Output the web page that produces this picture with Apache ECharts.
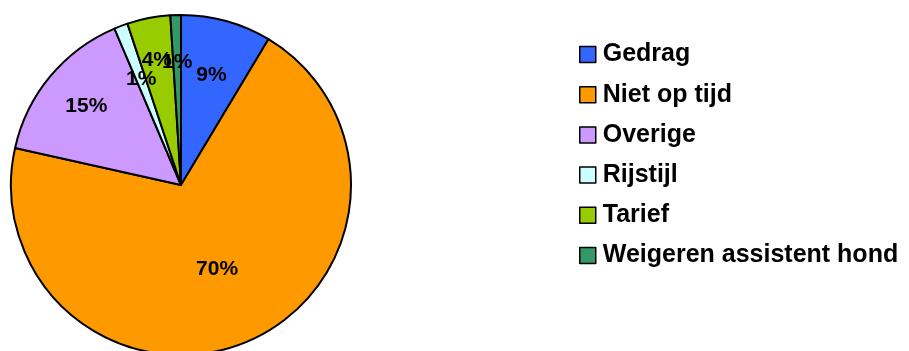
<!DOCTYPE html>
<html><head><meta charset="utf-8">
<script src="https://cdn.jsdelivr.net/npm/echarts@6/dist/echarts.min.js"></script>
<style>html,body{margin:0;padding:0;background:#fff}#c{width:909px;height:351px}</style>
</head><body><div id="c"></div>
<script>
const categories = ['Gedrag', 'Niet op tijd', 'Overige', 'Rijstijl', 'Tarief', 'Weigeren assistent hond'];
const values = [8.6, 69.9, 15.1, 1.3, 4.1, 1.0];
const colors = ['#3366FF', '#FF9900', '#CC99FF', '#CCFFFF', '#99CC00', '#339966'];
const labelRadiusFactor = [0.65, 0.52, 0.70, 0.64, 0.72, 0.70];

const CX = 181, CY = 185, R = 170;
const FONT = 'Liberation Sans, Arial, sans-serif';
const chart = echarts.init(document.getElementById('c'), null, {renderer: 'canvas'});
chart.setOption({
  animation: false,
  legend: {
    orient: 'vertical', left: 579, top: 42, padding: 0,
    itemWidth: 16, itemHeight: 16, itemGap: 15.2,
    icon: 'rect',
    itemStyle: {borderColor: '#000', borderWidth: 1.5},
    textStyle: {fontFamily: FONT, fontWeight: 'bold', fontSize: 25, color: '#000', lineHeight: 24, padding: [0, 0, 0, 2]},
    data: categories
  },
  series: [{
    type: 'pie',
    center: [CX, CY], radius: R,
    startAngle: 90, clockwise: true,
    avoidLabelOverlap: false,
    label: {
      position: 'inside',
      formatter: p => Math.round(p.percent) + '%',
      fontFamily: FONT, fontWeight: 'bold', fontSize: 21, color: '#000',
      textBorderWidth: 0
    },
    labelLayout: function (p) {
      const r = p.labelRect;
      const lx = r.x + r.width / 2, ly = r.y + r.height / 2;
      const f = labelRadiusFactor[p.dataIndex] / 0.5;
      return {x: CX + (lx - CX) * f, y: CY + (ly - CY) * f};
    },
    itemStyle: {borderColor: '#000', borderWidth: 2},
    emphasis: {disabled: true},
    data: categories.map((c, i) => ({name: c, value: values[i], itemStyle: {color: colors[i]}}))
  }]
});
</script></body></html>
